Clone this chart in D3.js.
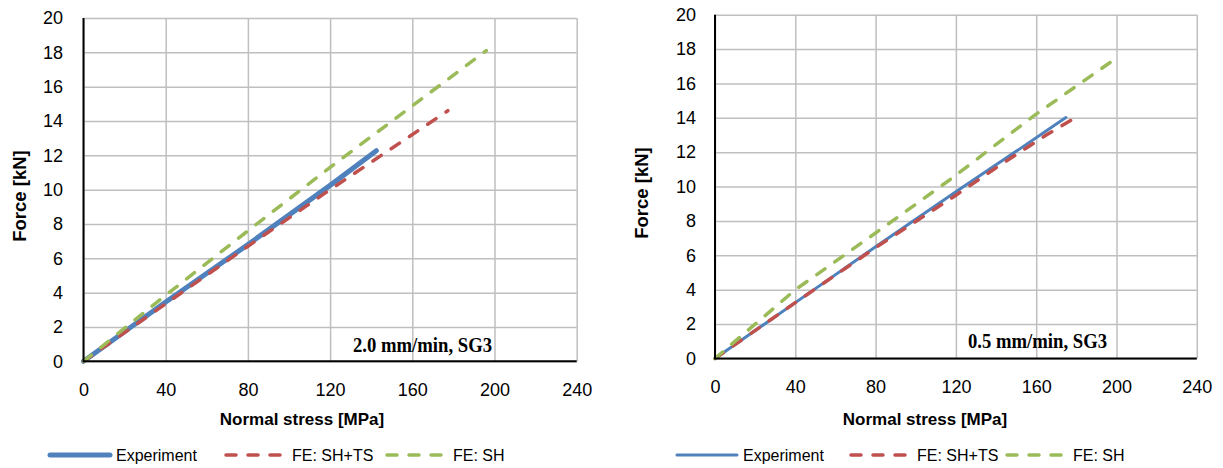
<!DOCTYPE html>
<html>
<head>
<meta charset="utf-8">
<script src="https://cdn.jsdelivr.net/npm/d3@7"></script>
<style>
  body { margin: 0; background: #fff; }
  text { font-family: "Liberation Sans", Arial, sans-serif; }
</style>
</head>
<body>
<div id="chart"></div>
<script>
// axis ticks
const xTicks = [0, 40, 80, 120, 160, 200, 240];
const yTicks = [0, 2, 4, 6, 8, 10, 12, 14, 16, 18, 20];

const seriesNames = ["Experiment", "FE: SH+TS", "FE: SH"];

// left panel: 2.0 mm/min
const expStress_a = [0, 40, 80, 120, 142.5];
const expForce_a  = [0, 3.45, 6.8, 10.25, 12.27];
const shtsStress_a = [0, 40, 80, 120, 177.3];
const shtsForce_a  = [0, 3.35, 6.7, 10.0, 14.6];
const shStress_a = [0, 40, 80, 120, 196];
const shForce_a  = [0, 3.85, 7.6, 11.3, 18.1];

// right panel: 0.5 mm/min
const expStress_b = [0, 40, 80, 120, 150, 174.8];
const expForce_b  = [0, 3.25, 6.5, 9.7, 12.05, 14.02];
const shtsStress_b = [0, 40, 80, 120, 140, 165, 181.5];
const shtsForce_b  = [0, 3.25, 6.45, 9.5, 11.1, 13.0, 14.15];
const shStress_b = [0, 40, 80, 117, 158.6, 199.6];
const shForce_b  = [0, 4.0, 7.3, 10.4, 14.1, 17.45];

const colors = ["#4F81BD", "#C0504D", "#9BBB59"];

const svg = d3.select("#chart").append("svg")
    .attr("width", 1223)
    .attr("height", 468);

function zip(xs, ys) {
    return xs.map((x, i) => ({ x: x, y: ys[i] }));
}

function drawPanel(opt) {
    const x = d3.scaleLinear().domain([0, 240]).range([opt.left, opt.right]);
    const y = d3.scaleLinear().domain([0, 20]).range([opt.bottom, opt.top]);
    const w = opt.right - opt.left;
    const h = opt.bottom - opt.top;

    // gridlines
    const gx = svg.append("g")
        .attr("transform", `translate(0, ${opt.bottom})`)
        .call(d3.axisBottom(x).tickValues(xTicks).tickSize(-h).tickFormat(""));
    const gy = svg.append("g")
        .attr("transform", `translate(${opt.left}, 0)`)
        .call(d3.axisLeft(y).tickValues(yTicks).tickSize(-w).tickFormat(""));
    [gx, gy].forEach(g => {
        g.select(".domain").remove();
        g.selectAll("line").attr("stroke", "#BFBFBF").attr("stroke-width", 1.5);
    });

    // tick labels
    const tx = svg.append("g")
        .attr("transform", `translate(0, ${opt.bottom + 22})`)
        .call(d3.axisBottom(x).tickValues(xTicks).tickSize(0).tickPadding(0));
    tx.select(".domain").remove();
    tx.selectAll("text").attr("font-size", 18).attr("fill", "#000")
        .attr("font-family", "Liberation Sans, Arial, sans-serif");

    const ty = svg.append("g")
        .attr("transform", `translate(${opt.labelRight}, 0)`)
        .call(d3.axisLeft(y).tickValues(yTicks).tickSize(0).tickPadding(0));
    ty.select(".domain").remove();
    ty.selectAll("text").attr("font-size", 18).attr("fill", "#000")
        .attr("font-family", "Liberation Sans, Arial, sans-serif");

    // series lines
    const line = d3.line().x(d => x(d.x)).y(d => y(d.y));
    opt.series.forEach((s, i) => {
        svg.append("path")
            .datum(s)
            .attr("fill", "none")
            .attr("stroke", colors[i])
            .attr("stroke-width", i === 0 ? opt.expWidth : 3.5)
            .attr("stroke-linecap", "round")
            .attr("stroke-dasharray", i === 0 ? null : "10,12")
            .attr("d", line);
    });

    // black axis lines
    svg.append("line")
        .attr("x1", x(0)).attr("x2", x(0))
        .attr("y1", y(0) + 1).attr("y2", y(20))
        .attr("stroke", "#000").attr("stroke-width", 2);
    svg.append("line")
        .attr("x1", x(0)).attr("x2", x(240))
        .attr("y1", y(0)).attr("y2", y(0))
        .attr("stroke", "#000").attr("stroke-width", 2);

    // annotation
    svg.append("text")
        .attr("x", opt.noteX)
        .attr("y", opt.noteY)
        .attr("text-anchor", "end")
        .attr("textLength", 139)
        .attr("lengthAdjust", "spacingAndGlyphs")
        .style("font-family", "'Liberation Serif', 'Times New Roman', serif")
        .style("font-weight", "bold")
        .style("font-size", "22px")
        .text(opt.note);

    // axis titles
    svg.append("text")
        .attr("x", opt.xTitleX)
        .attr("y", 425)
        .attr("text-anchor", "middle")
        .style("font-weight", "bold")
        .style("font-size", "17px")
        .text("Normal stress [MPa]");

    svg.append("text")
        .attr("transform", `translate(${opt.yTitleX}, ${opt.yTitleY}) rotate(-90)`)
        .attr("text-anchor", "middle")
        .attr("dy", "0.35em")
        .style("font-weight", "bold")
        .style("font-size", "18.5px")
        .text("Force [kN]");

    // legend
    const lg = svg.append("g").attr("transform", "translate(0, 455)");
    opt.legendX.forEach((lx, i) => {
        lg.append("line")
            .attr("x1", lx).attr("x2", lx + 60)
            .attr("stroke", colors[i])
            .attr("stroke-width", i === 0 ? opt.expWidth : 3.5)
            .attr("stroke-linecap", "round")
            .attr("stroke-dasharray", i === 0 ? null : "10,12");
        lg.append("text")
            .attr("x", lx + 66)
            .attr("dy", "0.35em")
            .style("font-size", "16px")
            .text(seriesNames[i]);
    });
}

drawPanel({
    left: 83.5, right: 576.7, top: 18, bottom: 361.3,
    labelRight: 63,
    expWidth: 5,
    series: [zip(expStress_a, expForce_a), zip(shtsStress_a, shtsForce_a), zip(shStress_a, shForce_a)],
    note: "2.0 mm/min, SG3", noteX: 492, noteY: 351.5,
    xTitleX: 302, yTitleX: 20, yTitleY: 196,
    legendX: [50, 226, 387]
});

drawPanel({
    left: 715, right: 1196.8, top: 14.7, bottom: 358.5,
    labelRight: 696,
    expWidth: 3,
    series: [zip(expStress_b, expForce_b), zip(shtsStress_b, shtsForce_b), zip(shStress_b, shForce_b)],
    note: "0.5 mm/min, SG3", noteX: 1107, noteY: 348,
    xTitleX: 925, yTitleX: 642, yTitleY: 193,
    legendX: [677, 851, 1007]
});
</script>
</body>
</html>
